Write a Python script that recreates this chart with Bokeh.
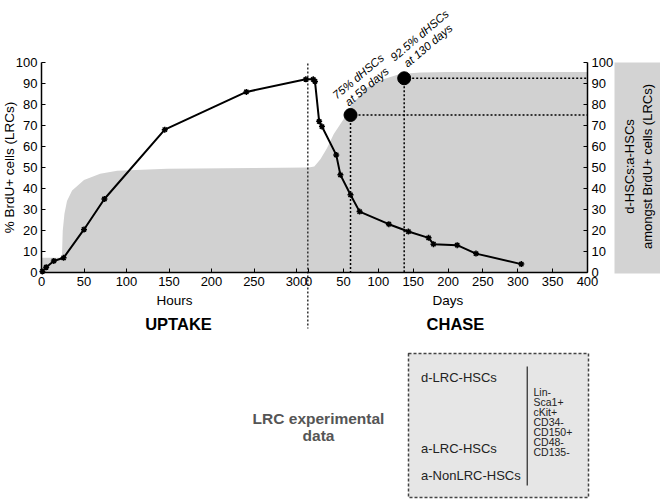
from bokeh.plotting import figure
from bokeh.models import Range1d, LinearAxis, FixedTicker
from bokeh.embed import file_html
from bokeh.resources import INLINE
from bokeh.core.properties import value

# ---------------- data ----------------
uptake_hours = [1, 5.5, 14.5, 26, 50, 74, 145, 241, 311]
uptake_pct = [0.5, 2.5, 5.5, 7, 20.5, 35, 68, 86, 92]

chase_days = [6.5, 9, 15, 19, 39.5, 45.5, 60, 73, 115, 143, 172, 179, 213, 240, 305]
chase_pct = [92, 91, 72, 69.5, 56, 46.5, 37, 29, 23, 19.5, 16.5, 13.5, 13, 9, 4]

ratio_hours = [0, 24, 25, 27, 30, 36, 50, 69, 89, 148, 250, 314]
ratio_uptake = [7, 7, 20, 28, 34, 39, 44, 47, 48.5, 49.4, 49.8, 50]
ratio_days = [0, 8, 12, 17, 26, 36, 50, 60, 83, 107, 131, 160, 200, 400]
ratio_chase = [50, 50.5, 52, 54, 59, 66, 73, 79, 88, 92, 94.5, 95.2, 95.5, 95.5]

mark_days = [60, 137]
mark_pct = [75, 92.5]
mark_text = ["75% dHSCs\nat 59 days", "92.5% dHSCs\nat 130 days"]

hour_ticks = [0, 50, 100, 150, 200, 250, 300]
day_ticks = [0, 50, 100, 150, 200, 250, 300, 350, 400]
pct_ticks = [0, 10, 20, 30, 40, 50, 60, 70, 80, 90, 100]

box_left = ["d-LRC-HSCs", "a-LRC-HSCs", "a-NonLRC-HSCs"]
box_right = ["Lin-", "Sca1+", "cKit+", "CD34-", "CD150+", "CD48-", "CD135-"]

# ---------------- geometry ----------------
W, H = 660, 500
OFF = 0
PX0, PXH = 41.0, 0.85      # page x of hour 0, px per hour
PY0, PYU = 272.0, 2.1      # page y of 0 %, px per %


def dx(px):
    return (px - PX0) / PXH


def dy(py):
    return (PY0 - py) / PYU


D0 = dx(308.2)             # x of chase day 0 (hour units)
K = 0.697 / PXH            # hour-units per day


def to_x(d):
    return D0 + K * d


FONT = "Liberation Sans"

x_range = Range1d(dx(OFF), dx(OFF + W))
y_range = Range1d(dy(OFF + H), dy(OFF))

p = figure(width=W, height=H, x_range=x_range, y_range=y_range,
           output_backend="svg", toolbar_location=None,
           x_axis_location=None, y_axis_location=None,
           min_border=0, min_border_left=0, min_border_right=0,
           min_border_top=0, min_border_bottom=0)
p.outline_line_color = None
p.grid.visible = False
p.background_fill_color = "white"
p.border_fill_color = "white"
p.extra_x_ranges = {"days": Range1d((x_range.start - D0) / K, (x_range.end - D0) / K)}


def style(ax, size="13px"):
    ax.major_tick_in = 4
    ax.major_tick_out = 0
    ax.minor_tick_in = 0
    ax.minor_tick_out = 0
    ax.major_label_text_font = FONT
    ax.major_label_text_font_size = size
    ax.major_label_text_color = "black"
    ax.major_label_standoff = 4
    ax.axis_line_width = 1.5
    ax.axis_line_color = "black"
    ax.major_tick_line_color = "black"
    ax.major_tick_line_width = 1
    ax.axis_label_text_font = FONT
    ax.axis_label_text_font_style = "normal"
    ax.axis_label_text_font_size = "13.5px"
    ax.axis_label_text_color = "black"
    ax.axis_label_standoff = 4


# ---------------- gray ratio area ----------------
fill_x = list(ratio_hours) + [to_x(d) for d in ratio_days]
fill_y = list(ratio_uptake) + list(ratio_chase)
p.varea(x=fill_x, y1=0, y2=fill_y, fill_color="#d1d1d1")

# right gray label box
p.quad(left=dx(614), right=dx(OFF + W), top=dy(62), bottom=dy(273),
       fill_color="#d3d3d3", line_color=None)
p.text(x=[dx(638)], y=[dy(166)], text=["d-HSCs:a-HSCs\namongst BrdU+ cells (LRCs)"],
       angle=1.5708, text_font=value(FONT), text_font_size="13px",
       text_align="center", text_baseline="middle", text_line_height=1.25,
       text_color="black")

# ---------------- axes ----------------
sep_x = dx(307.3)

yl = LinearAxis(fixed_location=0, bounds=(0, 100), ticker=FixedTicker(ticks=pct_ticks),
                axis_label="% BrdU+ cells (LRCs)")
style(yl)
yl.axis_label_standoff = -4
p.add_layout(yl, "left")

yr = LinearAxis(fixed_location=to_x(400), bounds=(0, 100), ticker=FixedTicker(ticks=pct_ticks))
style(yr)
p.add_layout(yr, "right")

xline = LinearAxis(fixed_location=0, bounds=(0, to_x(400)), ticker=FixedTicker(ticks=[]))
style(xline)
xline.major_label_text_alpha = 0
p.add_layout(xline, "below")

xh = LinearAxis(fixed_location=0, bounds=(0, sep_x), ticker=FixedTicker(ticks=hour_ticks),
                axis_label="Hours")
style(xh)
xh.axis_line_color = None
p.add_layout(xh, "below")

xd = LinearAxis(x_range_name="days", fixed_location=0, bounds=(0, 400),
                ticker=FixedTicker(ticks=day_ticks), axis_label="Days")
style(xd)
xd.axis_line_color = None
p.add_layout(xd, "below")

# ---------------- guide lines ----------------
p.segment(x0=[sep_x], y0=[dy(63)], x1=[sep_x], y1=[dy(328)],
          line_color="#333333", line_dash="2 2", line_width=1.5)
mx = [to_x(d) for d in mark_days]
p.segment(x0=mx, y0=mark_pct, x1=mx, y1=[0] * len(mx),
          line_color="black", line_dash="2 2", line_width=1.5)
p.segment(x0=mx, y0=mark_pct, x1=[to_x(400)] * len(mx), y1=mark_pct,
          line_color="black", line_dash="2 2", line_width=1.5)

# ---------------- BrdU line ----------------
line_x = list(uptake_hours) + [to_x(d) for d in chase_days]
line_y = list(uptake_pct) + list(chase_pct)
p.line(line_x, line_y, line_color="black", line_width=2)
p.scatter(line_x, line_y, marker="asterisk", size=6, line_color="black", line_width=1.5)

# marked points
p.scatter(mx, mark_pct, marker="circle", size=13, fill_color="black", line_color="black")
p.text(x=[dx(362), dx(423.3)], y=[dy(81), dy(40)], text=mark_text, angle=0.70,
       text_font=value(FONT), text_font_style="italic", text_font_size="11.5px",
       text_align="center", text_baseline="middle", text_line_height=1.1,
       text_color="black")

# ---------------- lower texts ----------------
p.text(x=[dx(178), dx(455)], y=[dy(323), dy(323)], text=["UPTAKE", "CHASE"],
       text_font=value(FONT), text_font_style="bold", text_font_size="16.5px",
       text_align="center", text_baseline="middle", text_color="black")

p.text(x=[dx(318)], y=[dy(426)], text=["LRC experimental\ndata"],
       text_font=value(FONT), text_font_style="bold", text_font_size="15.5px",
       text_align="center", text_baseline="middle", text_line_height=1.0,
       text_color="#555555")

p.quad(left=dx(408), right=dx(588), top=dy(353), bottom=dy(497),
       fill_color="#e6e6e6", line_color="#444444", line_dash="3 2", line_width=1.5)
p.segment(x0=[dx(526.7)], y0=[dy(366)], x1=[dx(526.7)], y1=[dy(485)],
          line_color="black", line_width=1)

left_y = [377, 448, 475]
p.text(x=[dx(420.5)] * len(box_left), y=[dy(v) for v in left_y], text=box_left,
       text_font=value(FONT), text_font_size="13px", text_align="left",
       text_baseline="middle", text_color="#222222")
p.text(x=[dx(533)] * len(box_right), y=[dy(391.7 + 10 * i) for i in range(len(box_right))],
       text=box_right, text_font=value(FONT), text_font_size="10.5px", text_align="left",
       text_baseline="middle", text_color="#222222")

open("out.html", "w").write(file_html(p, INLINE))
